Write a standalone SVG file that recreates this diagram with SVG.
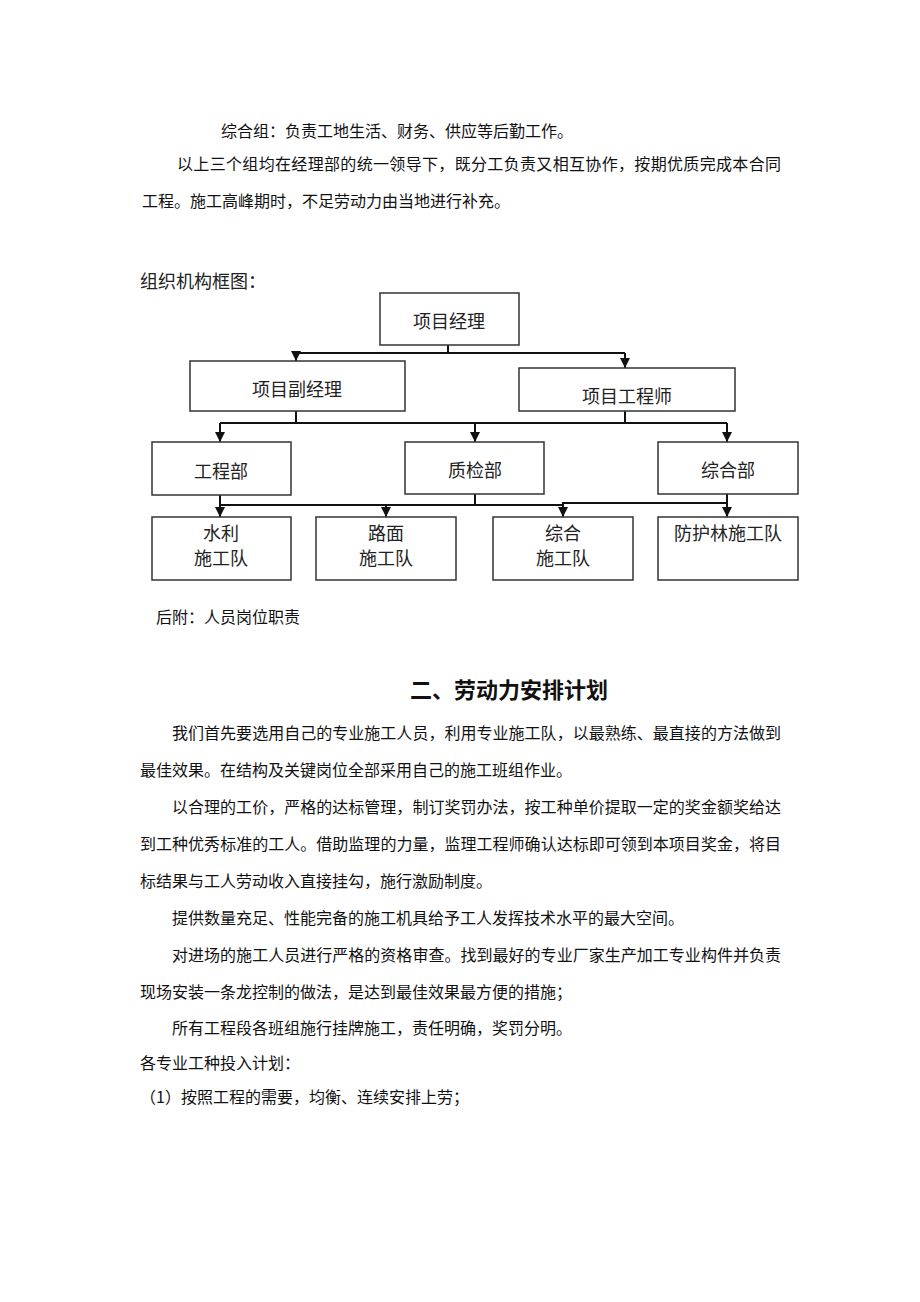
<svg xmlns="http://www.w3.org/2000/svg" width="920" height="1302" viewBox="0 0 920 1302">
<style>
.body{font-family:"Noto Sans CJK SC","Noto Sans",sans-serif;font-size:16px;fill:#111}
.lbl{font-family:"Noto Sans CJK SC","Noto Sans",sans-serif;font-size:18px;fill:#222;text-anchor:middle}
.title{font-family:"Noto Sans CJK SC","Noto Sans",sans-serif;font-size:22px;font-weight:bold;fill:#111}
.box{fill:#fff;stroke:#333;stroke-width:1.5}
.ln{fill:none;stroke:#111;stroke-width:2}
</style>
<defs>
<marker id="ah" viewBox="0 0 10 10" refX="10" refY="5" markerWidth="5" markerHeight="5" markerUnits="strokeWidth" orient="auto">
<path d="M0,0 L10,5 L0,10 z" fill="#111"/>
</marker>
</defs>
<rect width="920" height="1302" fill="#fff"/>

<text class="body" x="221" y="137">综合组：负责工地生活、财务、供应等后勤工作。</text>
<text class="body" x="177" y="170" textLength="604" lengthAdjust="spacing">以上三个组均在经理部的统一领导下，既分工负责又相互协作，按期优质完成本合同</text>
<text class="body" x="142" y="207">工程。施工高峰期时，不足劳动力由当地进行补充。</text>
<text class="lbl" x="140" y="288" style="text-anchor:start">组织机构框图：</text>

<g id="connectors">
<path class="ln" d="M448,345 V353 M296,353 H625"/>
<path class="ln" d="M296,353 V361" marker-end="url(#ah)"/>
<path class="ln" d="M625,353 V368" marker-end="url(#ah)"/>
<path class="ln" d="M296,411 V423 M625,411 V423 M220,423 H727"/>
<path class="ln" d="M220,423 V442" marker-end="url(#ah)"/>
<path class="ln" d="M475,423 V442" marker-end="url(#ah)"/>
<path class="ln" d="M727,423 V442" marker-end="url(#ah)"/>
<path class="ln" d="M220,495 V517" marker-end="url(#ah)"/>
<path class="ln" d="M220,505 H563 M475,494 V505"/>
<path class="ln" d="M386,505 V517" marker-end="url(#ah)"/>
<path class="ln" d="M727,494 V517" marker-end="url(#ah)"/>
<path class="ln" d="M727,503 H563 V517" marker-end="url(#ah)"/>
</g>

<g id="pm"><rect class="box" x="380" y="293" width="139" height="52"/><text class="lbl" x="449" y="328">项目经理</text></g>
<g id="dpm"><rect class="box" x="190" y="361" width="215" height="50"/><text class="lbl" x="297" y="396">项目副经理</text></g>
<g id="eng"><rect class="box" x="519" y="368" width="216" height="43"/><text class="lbl" x="627" y="403">项目工程师</text></g>
<g id="gcb"><rect class="box" x="152" y="442" width="139" height="53"/><text class="lbl" x="221" y="478">工程部</text></g>
<g id="zjb"><rect class="box" x="405" y="442" width="139" height="52"/><text class="lbl" x="475" y="477">质检部</text></g>
<g id="zhb"><rect class="box" x="658" y="442" width="140" height="52"/><text class="lbl" x="728" y="477">综合部</text></g>
<g id="sl"><rect class="box" x="152" y="517" width="139" height="63"/><text class="lbl" x="221" y="540">水利</text><text class="lbl" x="221" y="565">施工队</text></g>
<g id="lm"><rect class="box" x="316" y="517" width="140" height="63"/><text class="lbl" x="386" y="540">路面</text><text class="lbl" x="386" y="565">施工队</text></g>
<g id="zh"><rect class="box" x="493" y="517" width="140" height="63"/><text class="lbl" x="563" y="540">综合</text><text class="lbl" x="563" y="565">施工队</text></g>
<g id="fhl"><rect class="box" x="658" y="517" width="140" height="63"/><text class="lbl" x="728" y="540">防护林施工队</text></g>

<text class="body" x="156" y="623">后附：人员岗位职责</text>
<text class="title" x="410" y="698">二、劳动力安排计划</text>
<text class="body" x="172" y="739" textLength="609" lengthAdjust="spacing">我们首先要选用自己的专业施工人员，利用专业施工队，以最熟练、最直接的方法做到</text>
<text class="body" x="140" y="776">最佳效果。在结构及关键岗位全部采用自己的施工班组作业。</text>
<text class="body" x="172" y="813" textLength="609" lengthAdjust="spacing">以合理的工价，严格的达标管理，制订奖罚办法，按工种单价提取一定的奖金额奖给达</text>
<text class="body" x="140" y="850" textLength="641" lengthAdjust="spacing">到工种优秀标准的工人。借助监理的力量，监理工程师确认达标即可领到本项目奖金，将目</text>
<text class="body" x="140" y="887">标结果与工人劳动收入直接挂勾，施行激励制度。</text>
<text class="body" x="172" y="924">提供数量充足、性能完备的施工机具给予工人发挥技术水平的最大空间。</text>
<text class="body" x="172" y="961" textLength="609" lengthAdjust="spacing">对进场的施工人员进行严格的资格审查。找到最好的专业厂家生产加工专业构件并负责</text>
<text class="body" x="140" y="998">现场安装一条龙控制的做法，是达到最佳效果最方便的措施；</text>
<text class="body" x="172" y="1034">所有工程段各班组施行挂牌施工，责任明确，奖罚分明。</text>
<text class="body" x="140" y="1069">各专业工种投入计划：</text>
<text class="body" x="140" y="1103">（1）按照工程的需要，均衡、连续安排上劳；</text>
</svg>
